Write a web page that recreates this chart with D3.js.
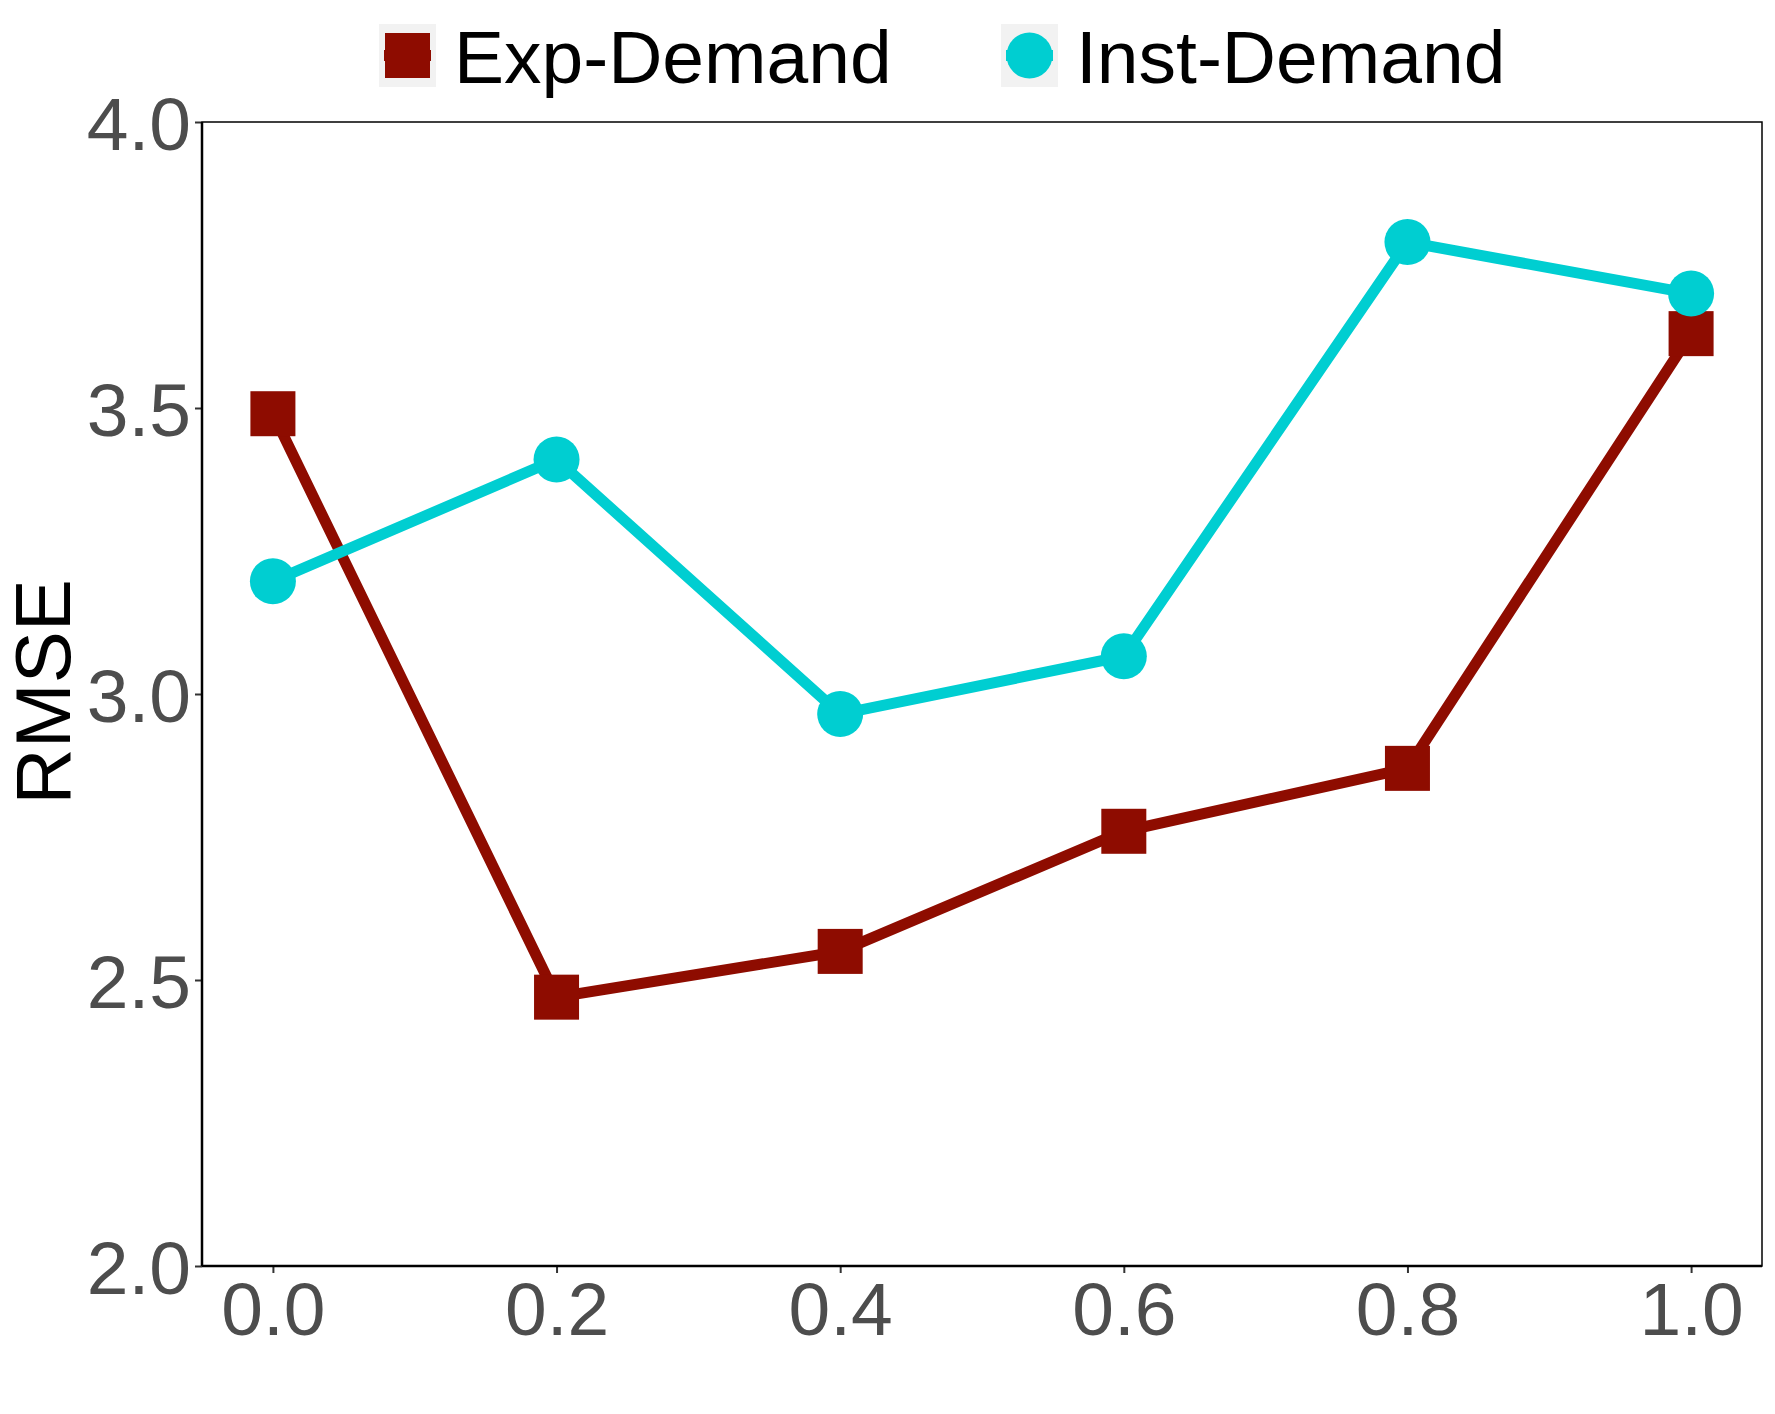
<html>
  <head>
    <script src="https://d3js.org/d3.v7.min.js"></script>
    <style>
      body {margin:0; background:white;}
      text {font-family: "Liberation Sans", Arial, Helvetica, sans-serif;}
    </style>
  </head>
  <body>
    <div id="chart1"></div>
    <script>
      var xValues = [0.0, 0.2, 0.4, 0.6, 0.8, 1.0];
      var expDemand = [3.49, 2.47, 2.55, 2.76, 2.87, 3.63];
      var instDemand = [3.197, 3.41, 2.965, 3.066, 3.79, 3.70];
      var xTicks = [0.0, 0.2, 0.4, 0.6, 0.8, 1.0];
      var yTicks = [2.0, 2.5, 3.0, 3.5, 4.0];
      var seriesNames = ["Exp-Demand", "Inst-Demand"];

      var W = 1775, H = 1414;
      var margin = {top: 122, right: 13, bottom: 148, left: 202},
          width = W - margin.left - margin.right,
          height = H - margin.top - margin.bottom;

      var colors = {"Exp-Demand": "#8e0c00", "Inst-Demand": "#00ced1"};

      var svg = d3.select("#chart1")
        .append("svg")
          .attr("width", W)
          .attr("height", H)
          .attr("style", "background-color: white;");

      var g = svg.append("g")
          .attr("transform", "translate(" + margin.left + "," + margin.top + ")");

      var x = d3.scaleLinear()
        .domain([-0.05, 1.05])
        .range([0, width]);
      var y = d3.scaleLinear()
        .domain([2, 4])
        .range([height, 0]);

      // panel border
      g.append("rect")
        .attr("width", width)
        .attr("height", height)
        .attr("fill", "none")
        .attr("stroke", "black")
        .attr("stroke-width", 1.5);

      var xAxis = g.append("g")
        .attr("transform", "translate(0," + height + ")")
        .call(d3.axisBottom(x).tickValues(xTicks).tickFormat(d3.format(".1f")).tickSizeOuter(0).tickSize(7).tickPadding(6));
      var yAxis = g.append("g")
        .call(d3.axisLeft(y).tickValues(yTicks).tickFormat(d3.format(".1f")).tickSizeOuter(0).tickSize(7).tickPadding(4));

      [xAxis, yAxis].forEach(function(a){
        a.select(".domain").remove();
        a.selectAll(".tick line").attr("stroke", "#333333").attr("stroke-width", 2);
        a.selectAll(".tick text")
          .attr("fill", "#4d4d4d")
          .style("font-size", "75px");
      });
      xAxis.selectAll(".tick text").attr("dy", "0.75em");
      yAxis.selectAll(".tick text").attr("dy", "0.36em");

      // axis lines
      g.append("line")
        .attr("x1", 0).attr("x2", width)
        .attr("y1", height).attr("y2", height)
        .attr("stroke", "black").attr("stroke-width", 2.5);
      g.append("line")
        .attr("x1", 0).attr("x2", 0)
        .attr("y1", 0).attr("y2", height)
        .attr("stroke", "black").attr("stroke-width", 2.5);

      svg.append("text")
        .attr("transform", "translate(70," + (margin.top + height / 2 - 2) + ") rotate(-90)")
        .attr("text-anchor", "middle")
        .style("font-size", "78px")
        .attr("fill", "black")
        .text("RMSE");

      var line = d3.line()
        .x(function(d) { return x(d[0]); })
        .y(function(d) { return y(d[1]); });

      var series = [
        {name: "Exp-Demand", values: d3.zip(xValues, expDemand)},
        {name: "Inst-Demand", values: d3.zip(xValues, instDemand)}
      ];

      series.forEach(function(s){
        g.append("path")
          .datum(s.values)
          .attr("d", line)
          .attr("fill", "none")
          .attr("stroke", colors[s.name])
          .attr("stroke-width", 11);
      });

      var sq = 45, rad = 23;
      g.selectAll(".sq")
        .data(series[0].values)
        .enter()
        .append("rect")
          .attr("x", function(d){ return x(d[0]) - sq / 2; })
          .attr("y", function(d){ return y(d[1]) - sq / 2; })
          .attr("width", sq)
          .attr("height", sq)
          .attr("fill", colors["Exp-Demand"]);
      g.selectAll(".dot")
        .data(series[1].values)
        .enter()
        .append("circle")
          .attr("cx", function(d){ return x(d[0]); })
          .attr("cy", function(d){ return y(d[1]); })
          .attr("r", rad)
          .attr("fill", colors["Inst-Demand"]);

      // legend
      var legendX = [379, 1001];
      var legend = svg.selectAll(".legend")
        .data(seriesNames)
        .enter()
        .append("g")
          .attr("transform", function(d, i){ return "translate(" + legendX[i] + ",24)"; });
      legend.append("rect")
        .attr("width", 57)
        .attr("height", 63)
        .attr("fill", "#f2f2f2");
      legend.append("line")
        .attr("x1", 5).attr("x2", 52)
        .attr("y1", 31.5).attr("y2", 31.5)
        .attr("stroke", function(d){ return colors[d]; })
        .attr("stroke-width", 11);
      legend.filter(function(d){ return d == "Exp-Demand"; })
        .append("rect")
          .attr("x", 28.5 - sq / 2)
          .attr("y", 31.5 - sq / 2)
          .attr("width", sq)
          .attr("height", sq)
          .attr("fill", colors["Exp-Demand"]);
      legend.filter(function(d){ return d == "Inst-Demand"; })
        .append("circle")
          .attr("cx", 28.5)
          .attr("cy", 31.5)
          .attr("r", rad)
          .attr("fill", colors["Inst-Demand"]);
      legend.append("text")
        .attr("x", 75)
        .attr("y", 59)
        .style("font-size", "75px")
        .attr("fill", "black")
        .text(function(d){ return d; });
    </script>
  </body>
</html>
